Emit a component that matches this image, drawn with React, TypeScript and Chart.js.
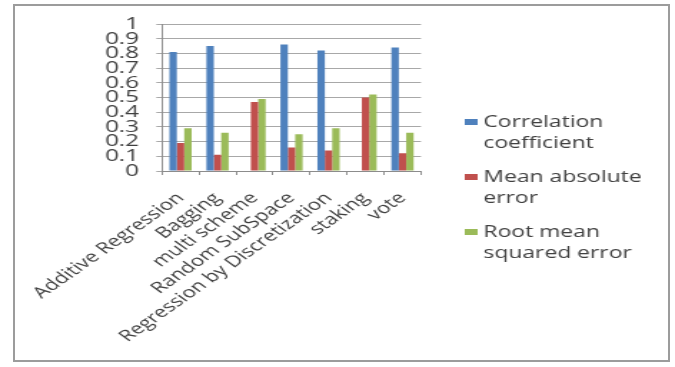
import React, { useEffect, useRef } from 'react';
import { Chart, registerables } from 'chart.js';

Chart.register(...registerables);

// Methods compared
const categories = [
  'Additive Regression',
  'Bagging',
  'multi scheme',
  'Random SubSpace',
  'Regression by Discretization',
  'staking',
  'vote',
];

// Evaluation metrics per method
const correlationCoefficient = [0.81, 0.85, 0, 0.86, 0.82, 0, 0.84];
const meanAbsoluteError = [0.19, 0.11, 0.47, 0.16, 0.14, 0.5, 0.12];
const rootMeanSquaredError = [0.29, 0.26, 0.49, 0.25, 0.29, 0.52, 0.26];

const seriesNames = ['Correlation coefficient', 'Mean absolute error', 'Root mean squared error'];
const seriesColors = ['#4F81BD', '#C0504D', '#9BBB59'];

const yTickLabels = ['0', '0.1', '0.2', '0.3', '0.4', '0.5', '0.6', '0.7', '0.8', '0.9', '1'];

// The drawing is laid out on a narrower canvas and widened horizontally on screen.
const STRETCH = 1.43;
const W = 675;
const H = 367;
const CW = Math.round(W / STRETCH);

const TEXT = '#404040';
const FONT = '"Open Sans", "DejaVu Sans", sans-serif';

const PLOT_LEFT = 113.3;
const PLOT_RIGHT = 294.4;
const PLOT_TOP = 24;
const PLOT_BOTTOM = 171;

function wrapText(ctx: CanvasRenderingContext2D, text: string, maxWidth: number): string[] {
  const words = text.split(' ');
  const lines: string[] = [];
  let line = '';
  for (const w of words) {
    const test = line ? line + ' ' + w : w;
    if (line && ctx.measureText(test).width > maxWidth) {
      lines.push(line);
      line = w;
    } else {
      line = test;
    }
  }
  if (line) lines.push(line);
  return lines;
}

// Legend to the right of the plot, with wrapped labels
const sideLegend = {
  id: 'sideLegend',
  afterDraw(chart: any) {
    const ctx: CanvasRenderingContext2D = chart.ctx;
    ctx.save();
    ctx.font = `16px ${FONT}`;
    ctx.textBaseline = 'middle';
    ctx.textAlign = 'left';
    const keyX = 325;
    const textX = 338;
    let y = 122;
    chart.data.datasets.forEach((ds: any) => {
      ctx.fillStyle = ds.backgroundColor;
      ctx.fillRect(keyX, y - 3, 9, 6);
      ctx.fillStyle = TEXT;
      const lines = wrapText(ctx, ds.label, 125);
      lines.forEach((ln, i) => ctx.fillText(ln, textX, y + i * 21));
      y += 55;
    });
    ctx.restore();
  },
};

export default function App() {
  const canvasRef = useRef<HTMLCanvasElement | null>(null);

  useEffect(() => {
    if (!canvasRef.current) return;
    const values = [correlationCoefficient, meanAbsoluteError, rootMeanSquaredError];
    const chart = new Chart(canvasRef.current, {
      type: 'bar',
      data: {
        labels: categories,
        datasets: seriesNames.map((name, i) => ({
          label: name,
          data: values[i],
          backgroundColor: seriesColors[i],
          borderWidth: 0,
          categoryPercentage: 0.6,
          barPercentage: 1,
        })),
      },
      options: {
        responsive: false,
        animation: false,
        devicePixelRatio: 1,
        layout: {
          padding: { left: 0, top: PLOT_TOP, right: CW - PLOT_RIGHT, bottom: 0 },
        },
        plugins: {
          legend: { display: false },
          tooltip: { enabled: false },
        },
        scales: {
          x: {
            grid: { drawOnChartArea: false, color: '#8c8c8c', tickLength: 4 },
            border: { color: '#8c8c8c' },
            ticks: {
              autoSkip: false,
              minRotation: 45,
              maxRotation: 45,
              color: TEXT,
              padding: 14,
              font: { family: FONT, size: 15.5 },
            },
            afterFit: (scale: any) => {
              scale.height = H - PLOT_BOTTOM;
            },
          },
          y: {
            min: 0,
            max: 1,
            grid: { color: '#a8a8a8', tickLength: 4 },
            border: { color: '#8c8c8c' },
            ticks: {
              stepSize: 0.1,
              autoSkip: false,
              color: TEXT,
              padding: 12,
              font: { family: FONT, size: 17 },
              callback: (_v: any, i: number) => yTickLabels[i],
            },
            afterFit: (scale: any) => {
              scale.width = PLOT_LEFT;
            },
          },
        },
      },
      plugins: [sideLegend],
    });
    return () => chart.destroy();
  }, []);

  return (
    <div
      style={{
        position: 'fixed',
        left: 0,
        top: 0,
        width: W,
        height: H,
        background: '#ffffff',
        overflow: 'hidden',
      }}
    >
      <div
        style={{
          position: 'absolute',
          left: 0,
          top: 0,
          width: CW,
          height: H,
          transform: `scaleX(${STRETCH})`,
          transformOrigin: '0 0',
        }}
      >
        <canvas ref={canvasRef} width={CW} height={H} style={{ width: CW, height: H }} />
      </div>
      <div
        style={{
          position: 'absolute',
          left: 13,
          top: 4,
          width: 657,
          height: 358,
          border: '2px solid #9c9c9c',
          boxSizing: 'border-box',
          pointerEvents: 'none',
        }}
      />
    </div>
  );
}
